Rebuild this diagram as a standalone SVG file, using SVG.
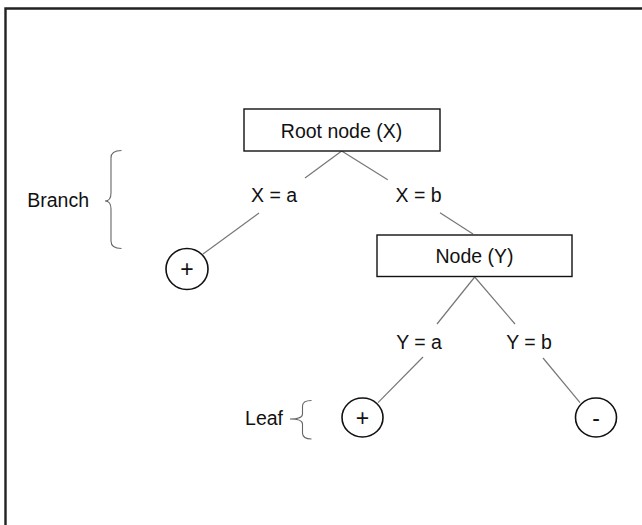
<svg xmlns="http://www.w3.org/2000/svg" width="642" height="525" viewBox="0 0 642 525">
  <style>
    text { font-family: "Liberation Sans", Arial, sans-serif; font-size: 19.5px; fill: #111; }
    .mid { text-anchor: middle; }
    .end { text-anchor: end; }
    .sign { font-size: 23px; }
    .box { fill: #fff; stroke: #111; stroke-width: 1.4; }
    .leaf { fill: #fff; stroke: #111; stroke-width: 1.6; }
    .edge { fill: none; stroke: #777; stroke-width: 1.2; }
    .brace { fill: none; stroke: #666; stroke-width: 1.1; }
    .frame { fill: none; stroke: #222; stroke-width: 2.4; }
  </style>

  <rect width="642" height="525" fill="#fff"/>

  <!-- outer frame: top and left edges only -->
  <path class="frame" d="M5.5,525 V8.5 H642"/>

  <!-- connectors -->
  <g id="connectors">
    <line class="edge" x1="341.7" y1="151" x2="305" y2="178"/>
    <line class="edge" x1="341.7" y1="151" x2="387.7" y2="179.7"/>
    <line class="edge" x1="259" y1="213" x2="203" y2="254"/>
    <line class="edge" x1="440" y1="212.7" x2="473" y2="234"/>
    <line class="edge" x1="474.7" y1="277" x2="437" y2="324"/>
    <line class="edge" x1="474.7" y1="277" x2="515" y2="324"/>
    <line class="edge" x1="423" y1="357" x2="378" y2="402.7"/>
    <line class="edge" x1="543" y1="358" x2="580" y2="402.7"/>
  </g>

  <!-- edge labels -->
  <g id="labels">
    <text class="mid" x="274" y="202">X = a</text>
    <text class="mid" x="418.5" y="202">X = b</text>
    <text class="mid" x="419" y="348.5">Y = a</text>
    <text class="mid" x="529" y="348.5">Y = b</text>
  </g>

  <g id="root">
    <rect class="box" x="244" y="109" width="196" height="42"/>
    <text class="mid" x="341.5" y="137.5">Root node (X)</text>
  </g>

  <g id="node-y">
    <rect class="box" x="377" y="235" width="195" height="41.5"/>
    <text class="mid" x="474.5" y="263">Node (Y)</text>
  </g>

  <g id="leaf-x-a">
    <ellipse class="leaf" cx="187" cy="269" rx="21" ry="20.5"/>
    <text class="mid sign" x="187" y="277">+</text>
  </g>

  <g id="leaf-y-a">
    <ellipse class="leaf" cx="362.5" cy="417.5" rx="20.5" ry="19.5"/>
    <text class="mid sign" x="362.5" y="425.5">+</text>
  </g>

  <g id="leaf-y-b">
    <ellipse class="leaf" cx="596" cy="417.5" rx="20.5" ry="19.5"/>
    <text class="mid sign" x="596" y="425.5">-</text>
  </g>

  <!-- annotations -->
  <g id="branch-note">
    <path class="brace" d="M121.5,150.5 Q111,150.5 111,158 V193 Q111,201 105,201 Q111,201 111,209 V241 Q111,248.5 121.5,248.5"/>
    <text class="end" x="89" y="207">Branch</text>
  </g>

  <g id="leaf-note">
    <path class="brace" d="M311.5,400.5 Q302.5,400.5 302.5,406 V414 Q302.5,419 290,419 Q302.5,419 302.5,424 V433 Q302.5,439 311.5,439"/>
    <text class="end" x="283" y="425">Leaf</text>
  </g>
</svg>
